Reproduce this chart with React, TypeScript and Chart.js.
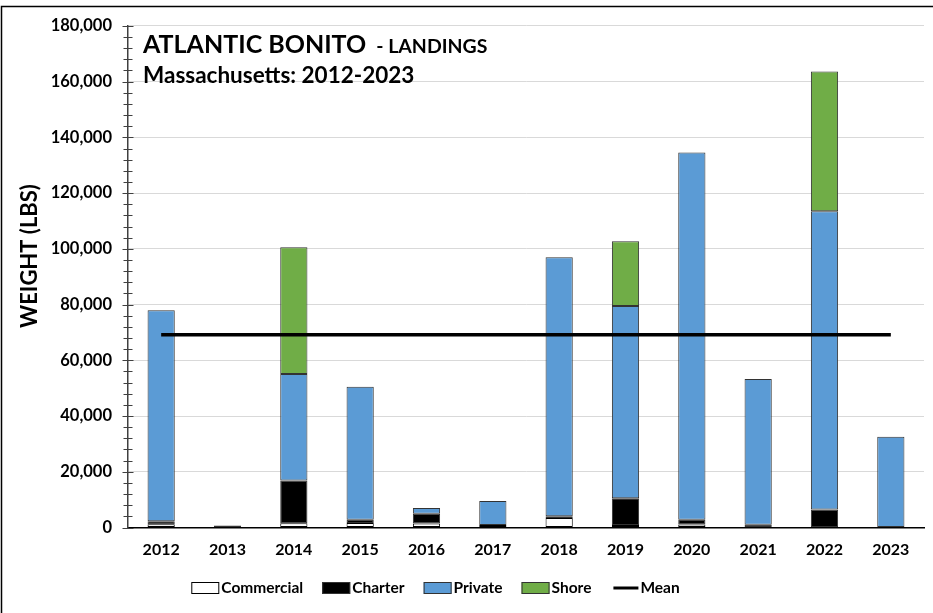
import React, { useEffect, useRef } from 'react';
import { Chart, registerables } from 'chart.js';

Chart.register(...registerables);

const years = ['2012', '2013', '2014', '2015', '2016', '2017', '2018', '2019', '2020', '2021', '2022', '2023'];
const commercial = [1200, null, 1500, 1600, 1400, 900, 3400, 900, 1100, null, null, null];
const charter = [1000, null, 15400, 1200, 3500, null, 600, 9600, 1700, 1000, 6500, null];
const privateRec = [75800, 700, 38200, 47700, 2100, 8600, 93000, 69000, 131800, 52300, 107000, 32600];
const shore = [null, null, 45500, null, null, null, null, 23200, null, null, 50100, null];
const mean = [69200, 69200, 69200, 69200, 69200, 69200, 69200, 69200, 69200, 69200, 69200, 69200];

const titleMain = 'ATLANTIC BONITO';
const titleTail = '- LANDINGS';
const subtitle = 'Massachusetts: 2012-2023';
const yTitle = 'WEIGHT (LBS)';

const FONT = 'Lato, "Open Sans", "DejaVu Sans", sans-serif';
const BAR_BORDER = '#333333';

const decorPlugin = {
  id: 'decor',
  beforeDraw(chart: any) {
    const { ctx, width, height } = chart;
    ctx.save();
    ctx.fillStyle = '#ffffff';
    ctx.fillRect(0, 0, width, height);
    ctx.restore();
  },
  afterDraw(chart: any) {
    const { ctx, chartArea, scales } = chart;
    const y = scales.y;
    const ax = chartArea.left;
    ctx.save();

    // y axis major / minor tick marks
    ctx.strokeStyle = '#404040';
    ctx.lineWidth = 1;
    for (let v = 0; v <= 180000; v += 4000) {
      const py = Math.round(y.getPixelForValue(v)) + 0.5;
      const major = v % 20000 === 0;
      const len = major ? 5.5 : 4.5;
      ctx.beginPath();
      ctx.moveTo(ax - len, py);
      ctx.lineTo(ax + len, py);
      ctx.stroke();
    }

    // y axis title
    ctx.save();
    ctx.translate(30, 256);
    ctx.rotate(-Math.PI / 2);
    ctx.fillStyle = '#000';
    ctx.font = `bold 22px ${FONT}`;
    ctx.textAlign = 'center';
    ctx.textBaseline = 'middle';
    ctx.fillText(yTitle, 0, 0);
    ctx.restore();

    // Title
    const tx = chartArea.left + 15;
    ctx.fillStyle = '#000';
    ctx.textAlign = 'left';
    ctx.textBaseline = 'alphabetic';
    ctx.font = `bold 25px ${FONT}`;
    ctx.fillText(titleMain, tx, 53);
    const w = ctx.measureText(titleMain).width;
    ctx.font = `bold 19.5px ${FONT}`;
    ctx.fillText(titleTail, tx + w + 10, 53);
    ctx.font = `bold 22.5px ${FONT}`;
    ctx.fillText(subtitle, tx, 83);

    // Legend
    const items = chart.data.datasets.map((d: any) => d);
    const order = ['Commercial', 'Charter', 'Private', 'Shore', 'Mean'];
    const legendItems = order.map((n) => items.find((d: any) => d.label === n));
    ctx.font = `bold 15.5px ${FONT}`;
    const boxW = 28;
    const gap = 2;
    const spacing = 19;
    let total = 0;
    legendItems.forEach((d: any, i: number) => {
      total += boxW + gap + ctx.measureText(d.label).width;
      if (i < legendItems.length - 1) total += spacing;
    });
    let lx = 435.5 - total / 2;
    const ly = 588;
    legendItems.forEach((d: any) => {
      if (d.type === 'line') {
        ctx.strokeStyle = d.borderColor;
        ctx.lineWidth = 3;
        ctx.beginPath();
        ctx.moveTo(lx + 3, ly);
        ctx.lineTo(lx + boxW, ly);
        ctx.stroke();
      } else {
        ctx.fillStyle = d.backgroundColor;
        ctx.fillRect(lx, ly - 6, boxW, 12);
        ctx.strokeStyle = d.label === 'Commercial' ? '#000' : BAR_BORDER;
        ctx.lineWidth = 1;
        ctx.strokeRect(lx + 0.5, ly - 5.5, boxW - 1, 11);
      }
      ctx.fillStyle = '#000';
      ctx.textBaseline = 'middle';
      ctx.textAlign = 'left';
      ctx.fillText(d.label, lx + boxW + gap, ly);
      lx += boxW + gap + ctx.measureText(d.label).width + spacing;
    });

    // outer frame (clipped on right/bottom)
    ctx.strokeStyle = '#000';
    ctx.lineWidth = 1.5;
    ctx.beginPath();
    ctx.moveTo(1.5, chart.height);
    ctx.lineTo(1.5, 6.5);
    ctx.lineTo(chart.width, 6.5);
    ctx.stroke();

    ctx.restore();
  },
};

export default function App() {
  const canvasRef = useRef<HTMLCanvasElement | null>(null);

  useEffect(() => {
    document.body.style.margin = '0';
    const canvas = canvasRef.current;
    if (!canvas) return;
    const barCommon = {
      type: 'bar' as const,
      stack: 'landings',
      borderColor: BAR_BORDER,
      borderWidth: 1,
      borderSkipped: false,
      barPercentage: 0.41,
      categoryPercentage: 1,
      order: 1,
    };
    const chart = new Chart(canvas, {
      type: 'bar',
      data: {
        labels: years,
        datasets: [
          { ...barCommon, label: 'Commercial', data: commercial, backgroundColor: '#ffffff', borderColor: '#000000' },
          { ...barCommon, label: 'Charter', data: charter, backgroundColor: '#000000' },
          { ...barCommon, label: 'Private', data: privateRec, backgroundColor: '#5B9BD5' },
          { ...barCommon, label: 'Shore', data: shore, backgroundColor: '#70AD47' },
          {
            type: 'line' as const,
            label: 'Mean',
            data: mean,
            stack: 'mean',
            borderColor: '#000000',
            backgroundColor: '#000000',
            borderWidth: 3.5,
            pointRadius: 0,
            fill: false,
            order: 0,
          },
        ] as any,
      },
      options: {
        animation: false,
        responsive: false,
        devicePixelRatio: 1,
        layout: { padding: { top: 24.5, right: 9, left: 0, bottom: 0 } },
        plugins: {
          legend: { display: false },
          tooltip: { enabled: false },
          title: { display: false },
        },
        scales: {
          x: {
            stacked: true,
            grid: { display: false, drawTicks: false },
            border: { display: true, color: '#000000', width: 1.5 },
            ticks: {
              color: '#000',
              font: { family: FONT, size: 16, weight: 'bold' },
              padding: 13,
              maxRotation: 0,
            },
            afterFit: (s: any) => {
              s.height = 85.5;
            },
          },
          y: {
            stacked: true,
            min: 0,
            max: 180000,
            grid: { color: '#D9D9D9', lineWidth: 1, drawTicks: false },
            border: { display: true, color: '#404040', width: 1.5 },
            ticks: {
              stepSize: 20000,
              color: '#000',
              padding: 16,
              font: { family: FONT, size: 16.5, weight: 'bold' },
              callback: (v: any) => Number(v).toLocaleString('en-US'),
            },
            afterFit: (s: any) => {
              s.width = 128;
            },
          },
        },
      } as any,
      plugins: [decorPlugin],
    });
    return () => chart.destroy();
  }, []);

  return (
    <div style={{ width: 933, height: 613 }}>
      <canvas ref={canvasRef} width={933} height={613} style={{ display: 'block' }} />
    </div>
  );
}
